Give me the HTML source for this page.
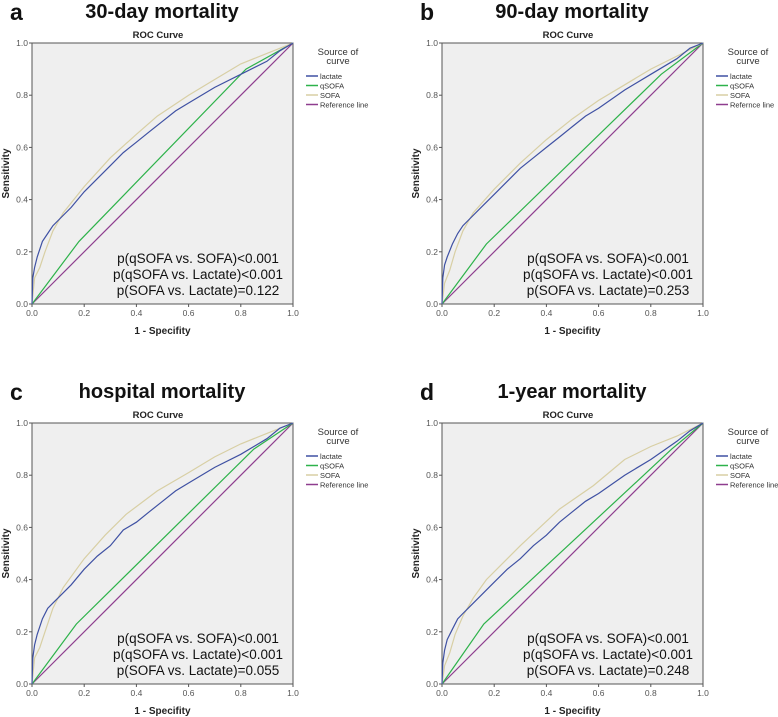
<!DOCTYPE html>
<html><head><meta charset="utf-8">
<style>
html,body{margin:0;padding:0;background:#fff;}
svg{display:block;font-family:"Liberation Sans",Arial,sans-serif;}
</style></head>
<body>
<svg id="fig" width="778" height="717" viewBox="0 0 778 717"></svg>
<script>
// ---- data ----
const panelLetters=["a","b","c","d"];
const panelTitles=["30-day mortality","90-day mortality","hospital mortality","1-year mortality"];
const pTexts=[
 ["p(qSOFA vs. SOFA)<0.001","p(qSOFA vs. Lactate)<0.001","p(SOFA vs. Lactate)=0.122"],
 ["p(qSOFA vs. SOFA)<0.001","p(qSOFA vs. Lactate)<0.001","p(SOFA vs. Lactate)=0.253"],
 ["p(qSOFA vs. SOFA)<0.001","p(qSOFA vs. Lactate)<0.001","p(SOFA vs. Lactate)=0.055"],
 ["p(qSOFA vs. SOFA)<0.001","p(qSOFA vs. Lactate)<0.001","p(SOFA vs. Lactate)=0.248"]];
const legendLabels=[
 ["lactate","qSOFA","SOFA","Reference line"],
 ["lactate","qSOFA","SOFA","Refernce line"],
 ["lactate","qSOFA","SOFA","Reference line"],
 ["lactate","qSOFA","SOFA","Reference line"]];
const tickValues=[0,0.2,0.4,0.6,0.8,1.0];
const tickLabels=["0.0","0.2","0.4","0.6","0.8","1.0"];
// lactate [fpr, tpr]
const lactate=[
 [[0,0],[0.003,0.1],[0.01,0.14],[0.02,0.18],[0.04,0.24],[0.06,0.27],[0.08,0.30],[0.1,0.32],[0.15,0.37],[0.2,0.43],[0.25,0.48],[0.3,0.53],[0.35,0.58],[0.4,0.62],[0.45,0.66],[0.5,0.70],[0.55,0.74],[0.6,0.77],[0.7,0.83],[0.8,0.88],[0.9,0.93],[0.95,0.97],[1,1]],
 [[0,0],[0.003,0.1],[0.01,0.15],[0.02,0.18],[0.04,0.23],[0.06,0.27],[0.08,0.30],[0.1,0.32],[0.15,0.37],[0.2,0.42],[0.25,0.47],[0.3,0.52],[0.35,0.56],[0.4,0.60],[0.45,0.64],[0.5,0.68],[0.55,0.72],[0.6,0.75],[0.7,0.82],[0.8,0.88],[0.9,0.94],[0.95,0.98],[1,1]],
 [[0,0],[0.003,0.1],[0.01,0.15],[0.02,0.19],[0.04,0.25],[0.06,0.29],[0.08,0.31],[0.1,0.33],[0.15,0.38],[0.2,0.44],[0.25,0.49],[0.3,0.53],[0.35,0.59],[0.4,0.62],[0.45,0.66],[0.5,0.70],[0.55,0.74],[0.6,0.77],[0.7,0.83],[0.8,0.88],[0.9,0.94],[0.95,0.98],[1,1]],
 [[0,0],[0.003,0.08],[0.01,0.13],[0.02,0.17],[0.04,0.21],[0.06,0.25],[0.08,0.27],[0.1,0.29],[0.15,0.34],[0.2,0.39],[0.25,0.44],[0.3,0.48],[0.35,0.53],[0.4,0.57],[0.45,0.62],[0.5,0.66],[0.55,0.70],[0.6,0.73],[0.7,0.80],[0.8,0.86],[0.9,0.93],[0.95,0.97],[1,1]]];
const sofa=[
 [[0,0],[0.01,0.1],[0.03,0.14],[0.05,0.20],[0.08,0.28],[0.12,0.35],[0.2,0.45],[0.3,0.56],[0.4,0.65],[0.48,0.72],[0.6,0.80],[0.7,0.86],[0.8,0.92],[0.9,0.96],[1,1]],
 [[0,0],[0.01,0.08],[0.03,0.13],[0.05,0.20],[0.08,0.28],[0.12,0.35],[0.2,0.44],[0.3,0.54],[0.4,0.63],[0.5,0.71],[0.6,0.78],[0.7,0.84],[0.8,0.90],[0.9,0.95],[1,1]],
 [[0,0],[0.01,0.1],[0.03,0.14],[0.05,0.20],[0.08,0.29],[0.12,0.37],[0.2,0.48],[0.28,0.57],[0.36,0.65],[0.48,0.74],[0.6,0.81],[0.7,0.87],[0.8,0.92],[0.9,0.96],[1,1]],
 [[0,0],[0.01,0.07],[0.03,0.12],[0.05,0.19],[0.08,0.26],[0.12,0.33],[0.17,0.40],[0.3,0.53],[0.45,0.67],[0.58,0.76],[0.7,0.86],[0.8,0.91],[0.9,0.95],[1,1]]];
const qsofa=[
 [[0,0],[0.18,0.24],[0.82,0.90],[1,1]],
 [[0,0],[0.17,0.23],[0.84,0.88],[1,1]],
 [[0,0],[0.17,0.23],[0.85,0.90],[1,1]],
 [[0,0],[0.16,0.23],[0.88,0.90],[1,1]]];
const reference=[[0,0],[1,1]];
// ---- drawing ----
const NS="http://www.w3.org/2000/svg";
const svg=document.getElementById('fig');
const colors={lactate:"#3f51a3",qsofa:"#2db24a",sofa:"#d8cfa4",ref:"#8e3d8e"};
const origins=[[32,43],[442,43],[32,423],[442,423]];
const W=261,H=261;
function el(tag,attrs,parent,text){const e=document.createElementNS(NS,tag);for(const k in attrs)e.setAttribute(k,attrs[k]);if(text!==undefined)e.textContent=text;(parent||svg).appendChild(e);return e;}
for(let i=0;i<4;i++){
 const [ox,oy]=origins[i];
 const xs=v=>ox+v*W, ys=v=>oy+H-v*H;
 const g=el('g',{});
 
 
 const L=el('text',{x:ox-22,y:oy-23,'font-size':23,'font-weight':'bold',fill:'#111'},g,panelLetters[i]);
 
 const T=el('text',{x:ox+130,y:oy-25,'font-size':20,'font-weight':'bold','text-anchor':'middle',fill:'#111'},g,panelTitles[i]);
 
 const R=el('text',{x:ox+126,y:oy-5,'font-size':9.5,'font-weight':'bold','text-anchor':'middle',fill:'#222'},g,"ROC Curve");
 
 const bg=el('rect',{x:ox,y:oy,width:W,height:H,fill:'#efefef',stroke:'#555','stroke-width':1},g);
 
 tickValues.forEach((v,k)=>{
  el('line',{x1:ox-3,x2:ox,y1:ys(v),y2:ys(v),stroke:'#555'},g);
  const ty=el('text',{x:ox-4,y:ys(v)+3,'font-size':8.5,'text-anchor':'end',fill:'#555'},g,tickLabels[k]);
  
  el('line',{x1:xs(v),x2:xs(v),y1:oy+H,y2:oy+H+3,stroke:'#555'},g);
  const tx=el('text',{x:xs(v),y:oy+H+12,'font-size':8.5,'text-anchor':'middle',fill:'#555'},g,tickLabels[k]);
  
 });
 const xt=el('text',{x:ox+W/2,y:oy+H+30,'font-size':10,'font-weight':'bold','text-anchor':'middle',fill:'#222'},g,"1 - Specifity");
 
 const yt=el('text',{x:0,y:0,'font-size':10,'font-weight':'bold','text-anchor':'middle',fill:'#222',transform:`translate(${ox-23},${oy+H/2}) rotate(-90)`},g,"Sensitivity");
 
 const series=[[reference,colors.ref,'reference-line'],[qsofa[i],colors.qsofa,'qsofa-curve'],[sofa[i],colors.sofa,'sofa-curve'],[lactate[i],colors.lactate,'lactate-curve']];
 series.forEach(([d,c,n])=>{
  const p=el('polyline',{points:d.map(q=>xs(q[0]).toFixed(1)+','+ys(q[1]).toFixed(1)).join(' '),fill:'none',stroke:c,'stroke-width':1.2},g);
  
 });
 pTexts[i].forEach((t,k)=>{
  const pt=el('text',{x:ox+166,y:oy+H-41+k*16,'font-size':13.5,'text-anchor':'middle',fill:'#111'},g,t);
  
 });
 const lx=ox+W+13;
 const lt1=el('text',{x:lx+32,y:oy+12,'font-size':9.5,'text-anchor':'middle',fill:'#333'},g,"Source of");
 
 el('text',{x:lx+32,y:oy+21,'font-size':9.5,'text-anchor':'middle',fill:'#333'},g,"curve");
 const lc=[colors.lactate,colors.qsofa,colors.sofa,colors.ref];
 legendLabels[i].forEach((t,k)=>{
  const yy=oy+33+k*9.5;
  const le=el('g',{},g);
  
  el('line',{x1:lx,x2:lx+12,y1:yy,y2:yy,stroke:lc[k],'stroke-width':1.5},le);
  el('text',{x:lx+14,y:yy+3,'font-size':7.5,fill:'#333'},le,t);
 });
}
</script>
</body></html>
